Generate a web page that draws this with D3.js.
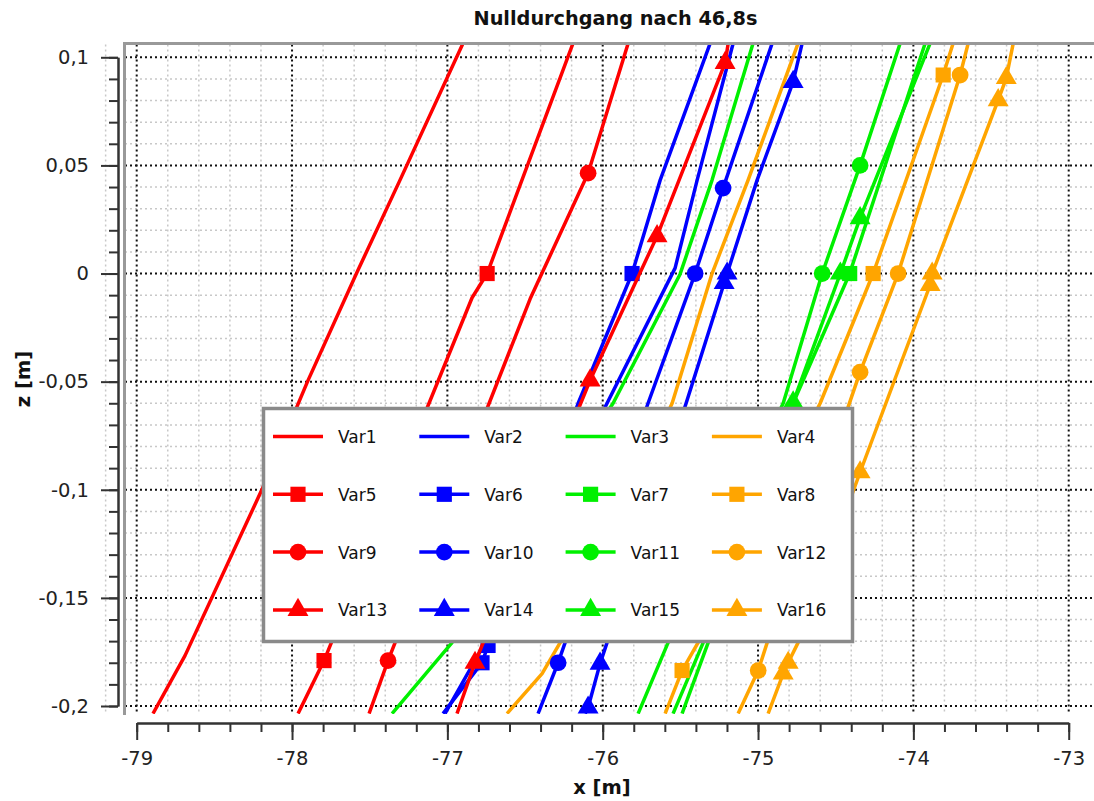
<!DOCTYPE html>
<html><head><meta charset="utf-8">
<script src="https://cdn.jsdelivr.net/npm/d3@7"></script>
<style>body{margin:0;background:#fff} svg{display:block} text{font-family:"DejaVu Sans",Verdana,sans-serif;}</style>
</head><body><svg id="c" width="1094" height="801"></svg>
<script>
// ---------- data (x [m], z [m]) ----------
const titleText = "Nulldurchgang nach 46,8s";
const seriesNames = ["Var1","Var2","Var3","Var4","Var5","Var6","Var7","Var8","Var9","Var10","Var11","Var12","Var13","Var14","Var15","Var16"];
const xTickValues = [-79,-78,-77,-76,-75,-74,-73];
const xTickLabels = ["-79","-78","-77","-76","-75","-74","-73"];
const yTickValues = [0.1,0.05,0,-0.05,-0.1,-0.15,-0.2];
const yTickLabels = ["0,1","0,05","0","-0,05","-0,1","-0,15","-0,2"];

const var1 = [[-76.899,0.1065],[-77.305,0.0432],[-77.581,0.0007],[-77.897,-0.0494],[-78.193,-0.0998],[-78.689,-0.1767],[-78.895,-0.2035]];
const var2 = [[-75.160,0.1065],[-75.392,0.0432],[-75.534,0.0025],[-75.972,-0.06],[-76.757,-0.1707],[-77.015,-0.2035]];
const var3 = [[-75.032,0.1065],[-75.296,0.0432],[-75.502,-0.0003],[-75.933,-0.06],[-76.970,-0.1707],[-77.356,-0.2035]];
const var4 = [[-74.742,0.1065],[-75.064,0.0432],[-75.296,0],[-75.553,-0.06],[-76.274,-0.1707],[-76.390,-0.185],[-76.616,-0.2035]];
const var5 = [[-76.191,0.1065],[-76.744,0],[-76.841,-0.0112],[-77.794,-0.179],[-77.961,-0.2035]];
const var5Marks = [[-76.744,0],[-77.794,-0.179]];
const var6 = [[-75.308,0.1065],[-75.630,0.0432],[-75.811,0],[-76.158,-0.06],[-76.738,-0.172],[-76.777,-0.18],[-77.028,-0.2035]];
const var6Marks = [[-75.811,0],[-76.738,-0.172],[-76.777,-0.18]];
const var7 = [[-73.924,0.1065],[-74.410,0],[-74.774,-0.06],[-75.353,-0.1707],[-75.547,-0.2035]];
const var7Marks = [[-74.410,0]];
const var8 = [[-73.744,0.1065],[-73.808,0.0918],[-74.259,0],[-74.600,-0.06],[-75.386,-0.1707],[-75.489,-0.1836],[-75.598,-0.2035]];
const var8Marks = [[-73.808,0.0918],[-74.259,0],[-75.489,-0.1836]];
const var9 = [[-75.836,0.1065],[-76.094,0.0464],[-76.467,-0.0117],[-77.382,-0.179],[-77.504,-0.2035]];
const var9Marks = [[-76.094,0.0464],[-77.382,-0.179]];
const var10 = [[-74.909,0.1065],[-75.225,0.0395],[-75.405,0],[-75.708,-0.06],[-76.242,-0.1707],[-76.287,-0.18],[-76.416,-0.2035]];
const var10Marks = [[-75.225,0.0395],[-75.405,0],[-76.287,-0.18]];
const var11 = [[-74.085,0.1065],[-74.343,0.05],[-74.587,0],[-74.838,-0.06],[-75.579,-0.1707],[-75.772,-0.2035]];
const var11Marks = [[-74.343,0.05],[-74.587,0]];
const var12 = [[-73.647,0.1065],[-73.699,0.0918],[-74.098,0],[-74.343,-0.0456],[-74.941,-0.1707],[-74.999,-0.1836],[-75.128,-0.2035]];
const var12Marks = [[-73.699,0.0918],[-74.098,0],[-74.343,-0.0456],[-74.999,-0.1836]];
const var13 = [[-75.192,0.1065],[-75.212,0.0974],[-75.650,0.0173],[-76.081,-0.0494],[-76.822,-0.18],[-76.938,-0.2035]];
const var13Marks = [[-75.212,0.0974],[-75.650,0.0173],[-76.081,-0.0494],[-76.822,-0.18]];
const var14 = [[-74.716,0.1065],[-74.774,0.0886],[-75.006,0.0432],[-75.199,0],[-75.218,-0.0044],[-75.463,-0.06],[-75.972,-0.1707],[-76.017,-0.1804],[-76.094,-0.2007],[-76.113,-0.2035]];
const var14Marks = [[-74.774,0.0886],[-75.199,0],[-75.218,-0.0044],[-76.017,-0.1804],[-76.094,-0.2007]];
const var15 = [[-73.892,0.1065],[-74.343,0.0256],[-74.470,0],[-74.774,-0.0596],[-75.321,-0.1707],[-75.489,-0.2035]];
const var15Marks = [[-74.343,0.0256],[-74.470,0],[-74.774,-0.0596]];
const var16 = [[-73.357,0.1065],[-73.402,0.0904],[-73.454,0.0802],[-73.879,0],[-73.892,-0.0053],[-74.343,-0.0919],[-74.742,-0.1707],[-74.806,-0.18],[-74.838,-0.185],[-74.935,-0.2035]];
const var16Marks = [[-73.402,0.0904],[-73.454,0.0802],[-73.879,0],[-73.892,-0.0053],[-74.343,-0.0919],[-74.806,-0.18],[-74.838,-0.185]];

const seriesLines = [var1,var2,var3,var4,var5,var6,var7,var8,var9,var10,var11,var12,var13,var14,var15,var16];
const seriesMarks = [[],[],[],[],var5Marks,var6Marks,var7Marks,var8Marks,var9Marks,var10Marks,var11Marks,var12Marks,var13Marks,var14Marks,var15Marks,var16Marks];

// ---------- styling ----------
const palette = ["#ff0000","#0000ff","#00f000","#ffa500"];
const markerTypes = [null, d3.symbolSquare, d3.symbolCircle, d3.symbolTriangle];
const markerSizes = [0, 230, 220, 190];
const colorOf = i => palette[i % 4];
const markerOf = i => markerTypes[Math.floor(i / 4)];
const sizeOf = i => markerSizes[Math.floor(i / 4)];

const svg = d3.select("#c");
const x = d3.scaleLinear().domain([-79, -73]).range([136.7, 1068.7]);
const y = d3.scaleLinear().domain([0.1, -0.2]).range([57.3, 706]);
const plot = {left: 125, right: 1094, top: 44.5, bottom: 714};

svg.append("defs").append("clipPath").attr("id","clip")
  .append("rect").attr("x", plot.left).attr("y", plot.top)
  .attr("width", plot.right - plot.left).attr("height", plot.bottom - plot.top);

// grid
const grid = svg.append("g");
const minorX = d3.range(-79.2, -72.7, 0.2).filter(v => Math.abs(v - Math.round(v)) > 1e-6);
const minorY = d3.range(0.1, -0.21, -0.01).filter(v => Math.abs(v*20 - Math.round(v*20)) > 1e-6);
grid.selectAll(".mx").data(minorX).join("line")
  .attr("x1", d => x(d)).attr("x2", d => x(d)).attr("y1", plot.top).attr("y2", plot.bottom)
  .attr("stroke", "#c8c8c8").attr("stroke-width", 1.5).attr("stroke-dasharray", "2,3");
grid.selectAll(".my").data(minorY).join("line")
  .attr("y1", d => y(d)).attr("y2", d => y(d)).attr("x1", plot.left).attr("x2", plot.right)
  .attr("stroke", "#c8c8c8").attr("stroke-width", 1.5).attr("stroke-dasharray", "2,3");
grid.selectAll(".MX").data(xTickValues).join("line")
  .attr("x1", d => x(d)).attr("x2", d => x(d)).attr("y1", plot.top).attr("y2", plot.bottom)
  .attr("stroke", "#111").attr("stroke-width", 2).attr("stroke-dasharray", "2,3");
grid.selectAll(".MY").data(yTickValues).join("line")
  .attr("y1", d => y(d)).attr("y2", d => y(d)).attr("x1", plot.left).attr("x2", plot.right)
  .attr("stroke", "#111").attr("stroke-width", 2).attr("stroke-dasharray", "2,3");

// series
const line = d3.line().x(d => x(d[0])).y(d => y(d[1]));
const gS = svg.append("g").attr("clip-path", "url(#clip)");
seriesLines.forEach((pts, i) => {
  gS.append("path").attr("d", line(pts)).attr("fill", "none")
    .attr("stroke", colorOf(i)).attr("stroke-width", 3.5).attr("stroke-linejoin", "round");
  const sym = markerOf(i);
  if (sym) {
    gS.selectAll(null).data(seriesMarks[i]).join("path")
      .attr("transform", d => `translate(${x(d[0])},${y(d[1])})`)
      .attr("d", d3.symbol().type(sym).size(sizeOf(i)))
      .attr("fill", colorOf(i));
  }
});

// frame
svg.append("line").attr("x1", plot.left - 1.5).attr("x2", plot.right).attr("y1", 43.5).attr("y2", 43.5)
  .attr("stroke", "#999").attr("stroke-width", 3);
svg.append("line").attr("x1", 124.5).attr("x2", 124.5).attr("y1", 42).attr("y2", 715)
  .attr("stroke", "#999").attr("stroke-width", 3);

// axes
const axisColor = "#333";
const yAxis = svg.append("g").attr("transform", "translate(118,0)")
  .call(d3.axisLeft(y).tickValues(yTickValues).tickFormat((d, i) => yTickLabels[i]).tickSize(17).tickSizeOuter(0).tickPadding(12));
const yMinor = svg.append("g").attr("transform", "translate(118,0)")
  .call(d3.axisLeft(y).tickValues(d3.range(0.1, -0.205, -0.01)).tickFormat("").tickSize(9).tickSizeOuter(0));
const xAxis = svg.append("g").attr("transform", "translate(0,723)")
  .call(d3.axisBottom(x).tickValues(xTickValues).tickFormat((d, i) => xTickLabels[i]).tickSize(17).tickSizeOuter(0).tickPadding(11));
const xMinor = svg.append("g").attr("transform", "translate(0,723)")
  .call(d3.axisBottom(x).tickValues(d3.range(-79, -72.95, 0.2)).tickFormat("").tickSize(9).tickSizeOuter(0));
[yAxis, yMinor, xAxis, xMinor].forEach(g => {
  g.selectAll("path,line").attr("stroke", axisColor).attr("stroke-width", 2);
  g.selectAll("text").attr("fill", "#222").style("font-size", "19.5px").style("font-family", "DejaVu Sans");
});

// titles
svg.append("text").attr("x", 615.5).attr("y", 25).attr("text-anchor", "middle")
  .style("font-size", "19.3px").style("font-weight", "bold").attr("fill", "#111").text(titleText);
svg.append("text").attr("x", 602).attr("y", 794).attr("text-anchor", "middle")
  .style("font-size", "19.5px").style("font-weight", "bold").attr("fill", "#111").text("x [m]");
svg.append("text").attr("transform", "translate(30,379) rotate(-90)").attr("text-anchor", "middle")
  .style("font-size", "19.5px").style("font-weight", "bold").attr("fill", "#111").text("z [m]");

// legend
const lg = svg.append("g");
lg.append("rect").attr("x", 263.5).attr("y", 408.5).attr("width", 589).attr("height", 233)
  .attr("fill", "#fff").attr("stroke", "#8a8a8a").attr("stroke-width", 3.5);
seriesNames.forEach((name, i) => {
  const col = i % 4, row = Math.floor(i / 4);
  const lx = 273 + col * 146.3, ly = 436.5 + row * 57.8;
  lg.append("line").attr("x1", lx).attr("x2", lx + 50).attr("y1", ly).attr("y2", ly)
    .attr("stroke", colorOf(i)).attr("stroke-width", 3.5);
  const sym = markerOf(i);
  if (sym) lg.append("path").attr("transform", `translate(${lx + 25},${ly})`)
    .attr("d", d3.symbol().type(sym).size(sizeOf(i))).attr("fill", colorOf(i));
  lg.append("text").attr("x", lx + 65).attr("y", ly + 6.5).style("font-size", "17px")
    .attr("fill", "#111").text(name);
});
</script></body></html>
